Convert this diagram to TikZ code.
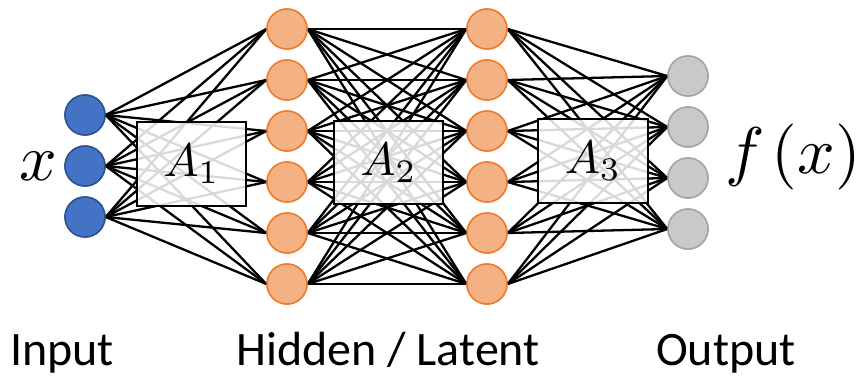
\documentclass[tikz,border=0pt]{standalone}
\usepackage{fontspec}
\setmainfont{Carlito}
\definecolor{inblue}{HTML}{4472C4}
\definecolor{inbluedark}{HTML}{2F528F}
\definecolor{hidfill}{HTML}{F4B183}
\definecolor{hiddraw}{HTML}{ED7D31}
\definecolor{outfill}{HTML}{C9C9C9}
\definecolor{outdraw}{HTML}{A5A5A5}
\tikzset{
  neuron/.style={circle, minimum size=40pt, inner sep=0pt, line width=1.5pt},
  inneuron/.style={neuron, fill=inblue, draw=inbluedark},
  hidneuron/.style={neuron, fill=hidfill, draw=hiddraw},
  outneuron/.style={neuron, fill=outfill, draw=outdraw},
  wire/.style={line width=2.3pt, black},
  matbox/.style={draw=black, line width=1.6pt, fill=white, fill opacity=0.85, text opacity=1, inner sep=0pt},
  matlabel/.style={scale=4.7, inner sep=0pt},
  caption/.style={font=\fontsize{48}{56}\selectfont, anchor=base},
  mathlabel/.style={scale=6.6, inner sep=0pt},
}
\begin{document}
\begin{tikzpicture}[x=1pt,y=-1pt]
\useasboundingbox (0,0) rectangle (867,376);
% neurons
\foreach \i/\y in {1/115,2/166,3/217} \node[inneuron] (in\i) at (85,\y) {};
\foreach \i/\y in {1/29,2/80,3/131,4/182,5/233,6/284} {
  \node[hidneuron] (ha\i) at (287,\y) {};
  \node[hidneuron] (hb\i) at (487,\y) {};
}
\foreach \i/\y in {1/76,2/127,3/178,4/229} \node[outneuron] (o\i) at (688,\y) {};
% connections
\foreach \a in {1,2,3} \foreach \b in {1,...,6} \draw[wire] (in\a.east) -- (ha\b.west);
\foreach \a in {1,...,6} \foreach \b in {1,...,6} \draw[wire] (ha\a.east) -- (hb\b.west);
\foreach \a in {1,...,6} \foreach \b in {1,...,4} \draw[wire] (hb\a.east) -- (o\b.west);
% boxes
\node[matbox, minimum width=109pt, minimum height=84pt] (A1) at (191.5,164) {};
\node[matbox, minimum width=109pt, minimum height=83pt] (A2) at (388.5,162.5) {};
\node[matbox, minimum width=110pt, minimum height=84pt] (A3) at (593,161) {};
\node[matlabel] (A1t) at (A1) {$A_1$};
\node[matlabel] (A2t) at (A2) {$A_2$};
\node[matlabel] (A3t) at (A3) {$A_3$};
% redraw neurons on top
\foreach \i/\y in {1/115,2/166,3/217} \node[inneuron] at (85,\y) {};
\foreach \i/\y in {1/29,2/80,3/131,4/182,5/233,6/284} {
  \node[hidneuron] at (287,\y) {};
  \node[hidneuron] at (487,\y) {};
}
\foreach \i/\y in {1/76,2/127,3/178,4/229} \node[outneuron] at (688,\y) {};
% labels
\node[mathlabel] (xl) at (38,166) {$x$};
\node[mathlabel] (fx) at (793,157) {$f\mkern2mu(x)$};
\node[caption] (inp) at (62,365) {Input};
\node[caption] (hid) at (388,365) {Hidden / Latent};
\node[caption] (outp) at (726,365) {Output};
\end{tikzpicture}
\end{document}
